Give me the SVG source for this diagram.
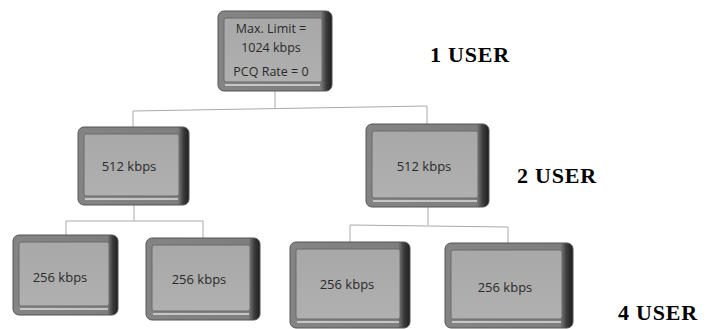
<svg xmlns="http://www.w3.org/2000/svg" width="712" height="329" viewBox="0 0 712 329">
<defs>
<linearGradient id="rim" x1="0" y1="0" x2="1" y2="0">
<stop offset="0" stop-color="#848484"/>
<stop offset="0.9" stop-color="#7e7e7e"/>
<stop offset="0.95" stop-color="#3c3c3c"/>
<stop offset="1" stop-color="#1e1e1e"/>
</linearGradient>
<linearGradient id="face" x1="0" y1="0" x2="0" y2="1">
<stop offset="0" stop-color="#a8a8a8"/>
<stop offset="1" stop-color="#b0b0b0"/>
</linearGradient>
</defs>
<style>
.rim{fill:url(#rim);stroke:#555555;stroke-width:1}
.face{fill:url(#face);stroke:#6a6a6a;stroke-width:1}
.hl{stroke:#dcdcdc;stroke-width:1.5;fill:none}
.t{font-family:"Open Sans","Liberation Sans",sans-serif;font-size:12.5px;fill:#2a2a2a;text-anchor:middle}
.lbl{font-family:"Liberation Serif","Times New Roman",serif;font-weight:bold;font-size:22px;letter-spacing:0.8px;fill:#000}
.conn{stroke:#aaaaaa;stroke-width:1;fill:none}
</style>
<rect width="712" height="329" fill="#fff"/>
<g id="connectors" class="conn">
<path d="M275,91 V108"/>
<path d="M133,127 V111 L427,106 V124"/>
<path d="M134,205 V221"/>
<path d="M66,235 V221 H203 V238"/>
<path d="M428,207 V225"/>
<path d="M350,242 V225 L508,227 V243"/>
</g>
<g id="n-top">
<rect class="rim" x="218" y="11" width="114" height="80" rx="6"/>
<rect class="face" x="224" y="18" width="98" height="64" rx="2"/>
<line class="hl" x1="225" y1="85" x2="320" y2="85"/>
<text class="t" x="271" y="33">Max. Limit =</text>
<text class="t" x="271" y="52">1024 kbps</text>
<text class="t" x="271" y="76">PCQ Rate = 0</text>
</g>
<g id="n-mid-left">
<rect class="rim" x="78" y="127" width="111" height="78" rx="6"/>
<rect class="face" x="84" y="134" width="95" height="62" rx="2"/>
<line class="hl" x1="85" y1="199" x2="178" y2="199"/>
<text class="t" x="129" y="171" style="font-size:13px">512 kbps</text>
</g>
<g id="n-mid-right">
<rect class="rim" x="366" y="124" width="123" height="83" rx="6"/>
<rect class="face" x="372" y="131" width="106" height="67" rx="2"/>
<line class="hl" x1="373" y1="201" x2="477" y2="201"/>
<text class="t" x="424" y="171" style="font-size:13px">512 kbps</text>
</g>
<g id="n-b1">
<rect class="rim" x="13" y="235" width="105" height="80" rx="6"/>
<rect class="face" x="19" y="242" width="90" height="64" rx="2"/>
<line class="hl" x1="20" y1="309" x2="108" y2="309"/>
<text class="t" x="60" y="282" style="font-size:13px">256 kbps</text>
</g>
<g id="n-b2">
<rect class="rim" x="146" y="238" width="114" height="82" rx="6"/>
<rect class="face" x="152" y="245" width="98" height="66" rx="2"/>
<line class="hl" x1="153" y1="314" x2="249" y2="314"/>
<text class="t" x="199" y="284" style="font-size:13px">256 kbps</text>
</g>
<g id="n-b3">
<rect class="rim" x="290" y="242" width="120" height="86" rx="6"/>
<rect class="face" x="296" y="249" width="104" height="70" rx="2"/>
<line class="hl" x1="297" y1="322" x2="399" y2="322"/>
<text class="t" x="347" y="289" style="font-size:13px">256 kbps</text>
</g>
<g id="n-b4">
<rect class="rim" x="445" y="243" width="128" height="85" rx="6"/>
<rect class="face" x="451" y="250" width="111" height="69" rx="2"/>
<line class="hl" x1="452" y1="322" x2="561" y2="322"/>
<text class="t" x="505" y="292" style="font-size:13px">256 kbps</text>
</g>
<text class="lbl" x="430" y="62">1 USER</text>
<text class="lbl" x="517" y="183">2 USER</text>
<text class="lbl" x="618" y="320">4 USER</text>
</svg>
